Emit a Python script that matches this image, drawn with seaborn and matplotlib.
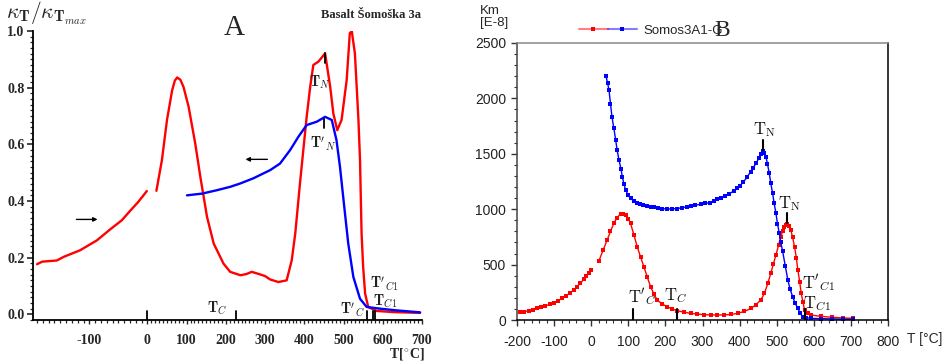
import numpy as np
import pandas as pd
import seaborn as sns
import matplotlib
matplotlib.use("Agg")
import matplotlib.pyplot as plt
from matplotlib.lines import Line2D
from matplotlib.legend_handler import HandlerTuple
from matplotlib.ticker import FixedLocator, MultipleLocator, FormatStrFormatter

# ---------------- Panel A: normalised susceptibility ----------------
a_low_t = [-190, -181, -156, -144, -116, -87, -64, -44, -29, -16, -1]
a_low_k = [0.177, 0.186, 0.190, 0.203, 0.226, 0.261, 0.300, 0.332, 0.367, 0.396, 0.435]

a_heat_t = [23, 37, 50, 63, 70, 76, 84, 92, 105, 122, 135, 152, 169, 194, 211, 237,
            252, 266, 287, 300, 313, 334, 355, 368, 377, 389, 406, 415, 423, 436,
            453, 466, 474, 484, 495, 508, 516, 521, 529, 538, 542, 546, 550, 555,
            563, 584, 626, 695]
a_heat_k = [0.436, 0.544, 0.686, 0.790, 0.825, 0.836, 0.828, 0.803, 0.733, 0.603,
            0.485, 0.344, 0.250, 0.179, 0.150, 0.138, 0.142, 0.150, 0.141, 0.135,
            0.123, 0.114, 0.120, 0.191, 0.286, 0.463, 0.697, 0.803, 0.880, 0.892,
            0.921, 0.803, 0.709, 0.650, 0.686, 0.827, 0.992, 1.000, 0.920, 0.686,
            0.544, 0.285, 0.167, 0.073, 0.026, 0.012, 0.008, 0.005]

a_cool_t = [101, 139, 177, 211, 237, 270, 313, 338, 364, 385, 406, 432, 453, 470,
            482, 491, 500, 512, 525, 542, 559, 593, 635, 695]
a_cool_k = [0.420, 0.426, 0.438, 0.450, 0.462, 0.480, 0.509, 0.532, 0.580, 0.627,
            0.668, 0.680, 0.697, 0.686, 0.615, 0.520, 0.403, 0.250, 0.132, 0.055,
            0.026, 0.020, 0.014, 0.007]

a_xticks = [-100, 0, 100, 200, 300, 400, 500, 600, 700]
a_yticks = [0.0, 0.2, 0.4, 0.6, 0.8, 1.0]

# ---------------- Panel B: bulk susceptibility Km ----------------
b_low_t = [-191, -180, -169, -158, -146, -135, -124, -112, -101, -90, -78, -67,
           -56, -47, -38, -29, -20, -13, -7, 0]
b_low_k = [69, 76, 84, 94, 105, 115, 126, 140, 156, 175, 196, 220, 247, 272, 301,
           333, 367, 395, 421, 450]

b_heat_t = [21, 32, 43, 52, 61, 70, 79, 86, 93, 100, 106, 115, 124, 133, 142, 151,
            160, 169, 178, 191, 205, 218, 232, 250, 268, 286, 305, 322, 340, 358,
            377, 395, 413, 431, 444, 457, 467, 476, 484, 491, 498, 505, 511, 516,
            520, 524, 528, 533, 538, 543, 548, 553, 557, 562, 566, 571, 575, 584,
            593, 620, 650, 680, 705]
b_heat_k = [535, 630, 722, 800, 872, 925, 957, 960, 948, 915, 872, 770, 662, 570,
            481, 390, 301, 235, 180, 145, 120, 100, 84, 70, 60, 54, 48, 46, 45, 46,
            50, 60, 78, 105, 138, 180, 241, 330, 421, 505, 587, 675, 752, 800, 842,
            860, 866, 848, 812, 745, 662, 560, 451, 345, 241, 160, 90, 60, 45, 32,
            25, 18, 15]

b_cool_t = [40, 44, 48, 52, 56, 61, 66, 70, 75, 80, 84, 88, 93, 99, 106, 115, 124,
            132, 140, 150, 160, 170, 180, 192, 205, 218, 230, 245, 259, 270, 280,
            295, 308, 320, 330, 340, 350, 360, 372, 385, 393, 400, 410, 421, 430,
            437, 444, 452, 457, 462, 466, 471, 475, 480, 484, 489, 493, 498, 502,
            507, 511, 516, 523, 530, 536, 543, 550, 557, 563, 570, 580, 593, 620,
            650, 680, 705]
b_cool_k = [2202, 2140, 2076, 1950, 1835, 1730, 1625, 1530, 1444, 1365, 1293, 1230,
            1173, 1130, 1098, 1072, 1053, 1043, 1035, 1028, 1023, 1016, 1010, 1005,
            1002, 1003, 1005, 1013, 1023, 1029, 1035, 1045, 1052, 1060, 1073, 1090,
            1104, 1120, 1140, 1165, 1187, 1210, 1245, 1293, 1340, 1375, 1414, 1460,
            1495, 1528, 1510, 1474, 1410, 1324, 1235, 1143, 1055, 963, 870, 782,
            700, 620, 490, 361, 280, 210, 150, 105, 62, 30, 20, 15, 12, 10, 7, 5]

b_xticks = [-200, -100, 0, 100, 200, 300, 400, 500, 600, 700, 800]
b_yticks = [0, 500, 1000, 1500, 2000, 2500]

sns.set_style("ticks")
plt.rcParams["mathtext.fontset"] = "cm"
plt.rcParams["axes.unicode_minus"] = False
plt.rcParams["font.family"] = ["Liberation Serif", "DejaVu Serif"]

W, H = 944, 364
fig = plt.figure(figsize=(W / 100, H / 100), dpi=100)


def box(x0, y0, x1, y1):
    return [x0 / W, 1 - y1 / H, (x1 - x0) / W, (y1 - y0) / H]


axA = fig.add_axes(box(33, 31, 422, 320))
axB = fig.add_axes(box(517, 43, 888, 320))

# ---------- Panel A ----------
for t, k, c in [(a_low_t, a_low_k, "#ff0000"), (a_heat_t, a_heat_k, "#ff0000"),
                (a_cool_t, a_cool_k, "#0000ff")]:
    sns.lineplot(data=pd.DataFrame({"T": t, "k": k}), x="T", y="k", ax=axA,
                 color=c, lw=1.7, sort=False, estimator=None)


def fwd(x):
    x = np.asarray(x, dtype=float)
    return np.where(x < 0, x * 1.48, x)


def inv(x):
    x = np.asarray(x, dtype=float)
    return np.where(x < 0, x / 1.48, x)


axA.set_xscale("function", functions=(fwd, inv))
axA.set_xlim(-197, 700)
axA.set_ylim(-0.02, 1.0)
axA.xaxis.set_major_locator(FixedLocator(a_xticks))
axA.xaxis.set_minor_locator(MultipleLocator(10))
axA.yaxis.set_major_locator(FixedLocator(a_yticks))
axA.yaxis.set_minor_locator(MultipleLocator(0.02))
axA.yaxis.set_major_formatter(FormatStrFormatter("%.1f"))
axA.set_xlabel("")
axA.set_ylabel("")
for s in ["top", "right"]:
    axA.spines[s].set_visible(False)
for s in ["left", "bottom"]:
    axA.spines[s].set_linewidth(1.3)
    axA.spines[s].set_color("black")
axA.tick_params(axis="x", which="major", direction="out", length=3, width=1,
                pad=7, labelsize=10)
axA.tick_params(axis="x", which="minor", direction="out", length=2.5, width=0.9)
axA.tick_params(axis="y", which="major", direction="out", length=4, width=1.2,
                pad=2, labelsize=10)
axA.tick_params(axis="y", which="minor", direction="out", length=2.5, width=0.9)
for lab in axA.get_xticklabels() + axA.get_yticklabels():
    lab.set_fontweight("bold")

# direction arrows
axA.annotate("", xy=(-81, 0.335), xytext=(-127, 0.335),
             arrowprops=dict(arrowstyle="-|>", lw=1.0, color="black", mutation_scale=6))
axA.annotate("", xy=(243, 0.547), xytext=(313, 0.547),
             arrowprops=dict(arrowstyle="-|>", lw=1.0, color="black", mutation_scale=6))

# transition markers
for xt, y0, y1 in [(453, 0.887, 0.922), (449, 0.657, 0.690), (0, -0.02, 0.011),
                   (226, -0.02, 0.011), (559, -0.02, 0.011), (574, -0.02, 0.011),
                   (580, -0.02, 0.011)]:
    axA.plot([xt, xt], [y0, y1], color="black", lw=1.3)

lab_kw = dict(ha="center", va="center", fontsize=10.5, color="#222222")
axA.text(440, 0.818, r"$\mathbf{T}_N$", **lab_kw)
axA.text(447, 0.602, r"$\mathbf{T}'_N$", **lab_kw)
axA.text(178, 0.021, r"$\mathbf{T}_C$", **lab_kw)
axA.text(522, 0.016, r"$\mathbf{T}'_C$", **lab_kw)
axA.text(604, 0.106, r"$\mathbf{T}'_{C1}$", **lab_kw)
axA.text(606, 0.046, r"$\mathbf{T}_{C1}$", **lab_kw)

fig.text(6 / W, 1 - 13 / H, r"$\kappa_{\mathbf{T}}/\kappa_{\mathbf{T}_{max}}$",
         ha="left", va="center", fontsize=15.5)
fig.text(234 / W, 1 - 28 / H, "A", ha="center", va="center", fontsize=21)
fig.text(371 / W, 1 - 15 / H, "Basalt Šomoška 3a", ha="center", va="center",
         fontsize=9, fontweight="bold")
fig.text(407 / W, 1 - 355 / H, r"T[$^{\circ}$C]", ha="center", va="center",
         fontsize=10, fontweight="bold")

# ---------- Panel B ----------
mk = dict(marker="s", markersize=3, markeredgewidth=0, lw=1.0)
for t, k, c in [(b_low_t, b_low_k, "#ff0000"), (b_heat_t, b_heat_k, "#ff0000"),
                (b_cool_t, b_cool_k, "#0000ff")]:
    sns.lineplot(data=pd.DataFrame({"T": t, "k": k}), x="T", y="k", ax=axB,
                 color=c, sort=False, estimator=None, **mk)

axB.set_xlim(-200, 800)
axB.set_ylim(0, 2500)
axB.xaxis.set_major_locator(FixedLocator(b_xticks))
axB.xaxis.set_minor_locator(MultipleLocator(20))
axB.yaxis.set_major_locator(FixedLocator(b_yticks))
axB.yaxis.set_minor_locator(MultipleLocator(100))
axB.set_xlabel("")
axB.set_ylabel("")
axB.spines["left"].set_color("#444444")
axB.spines["top"].set_color("#888888")
axB.spines["bottom"].set_color("black")
axB.spines["right"].set_color("black")
for s in axB.spines.values():
    s.set_linewidth(1.1)
axB.tick_params(axis="both", which="major", direction="out", length=4, width=1,
                color="#333333", labelsize=10)
axB.tick_params(axis="both", which="minor", direction="out", length=2.5,
                width=0.8, color="#333333")
axB.tick_params(axis="x", which="major", pad=7)
axB.tick_params(axis="y", which="major", pad=4)
for lab in axB.get_xticklabels() + axB.get_yticklabels():
    lab.set_fontfamily(["Liberation Sans", "DejaVu Sans"])
    lab.set_color("#222222")

for xt, y0, y1 in [(462, 1534, 1625), (528, 875, 966), (112, 0, 95),
                   (230, 0, 95), (576, 0, 95)]:
    axB.plot([xt, xt], [y0, y1], color="black", lw=1.5)

blab = dict(ha="center", va="center", fontsize=12, color="#111111")
axB.text(468, 1715, r"$\mathrm{T}_{\mathrm{N}}$", **blab)
axB.text(535, 1053, r"$\mathrm{T}_{\mathrm{N}}$", **blab)
axB.text(138, 205, r"$\mathrm{T'}_{C}$", **blab)
axB.text(228, 221, r"$\mathrm{T}_{C}$", **blab)
axB.text(613, 330, r"$\mathrm{T'}_{C1}$", **blab)
axB.text(609, 150, r"$\mathrm{T}_{C1}$", **blab)

sans = ["Liberation Sans", "DejaVu Sans"]
fig.text(480 / W, 1 - 5 / H, "Km\n[E-8]", ha="left", va="top", fontsize=9.5,
         family=sans, linespacing=0.95)
fig.text(907 / W, 1 - 339 / H, "T [°C]", ha="left", va="center", fontsize=10,
         family=sans)

h_red = Line2D([], [], color=(1, 0, 0, 0.5), lw=1.5, marker="s", markersize=3.5,
               markerfacecolor="#ff0000", markeredgewidth=0)
h_blue = Line2D([], [], color=(0, 0, 1, 0.5), lw=1.5, marker="s", markersize=3.5,
                markerfacecolor="#0000ff", markeredgewidth=0)
fig.legend([(h_red, h_blue)], ["Somos3A1-G"],
           handler_map={tuple: HandlerTuple(ndivide=None, pad=0)},
           loc="center left", bbox_to_anchor=(576 / W, 1 - 31 / H),
           frameon=False, handlelength=4.4, handletextpad=0.5,
           prop={"family": sans, "size": 9.5}, borderaxespad=0, borderpad=0.2)

fig.text(722 / W, 1 - 31 / H, "B", ha="center", va="center", fontsize=17)

fig.savefig("out.png", dpi=100)
